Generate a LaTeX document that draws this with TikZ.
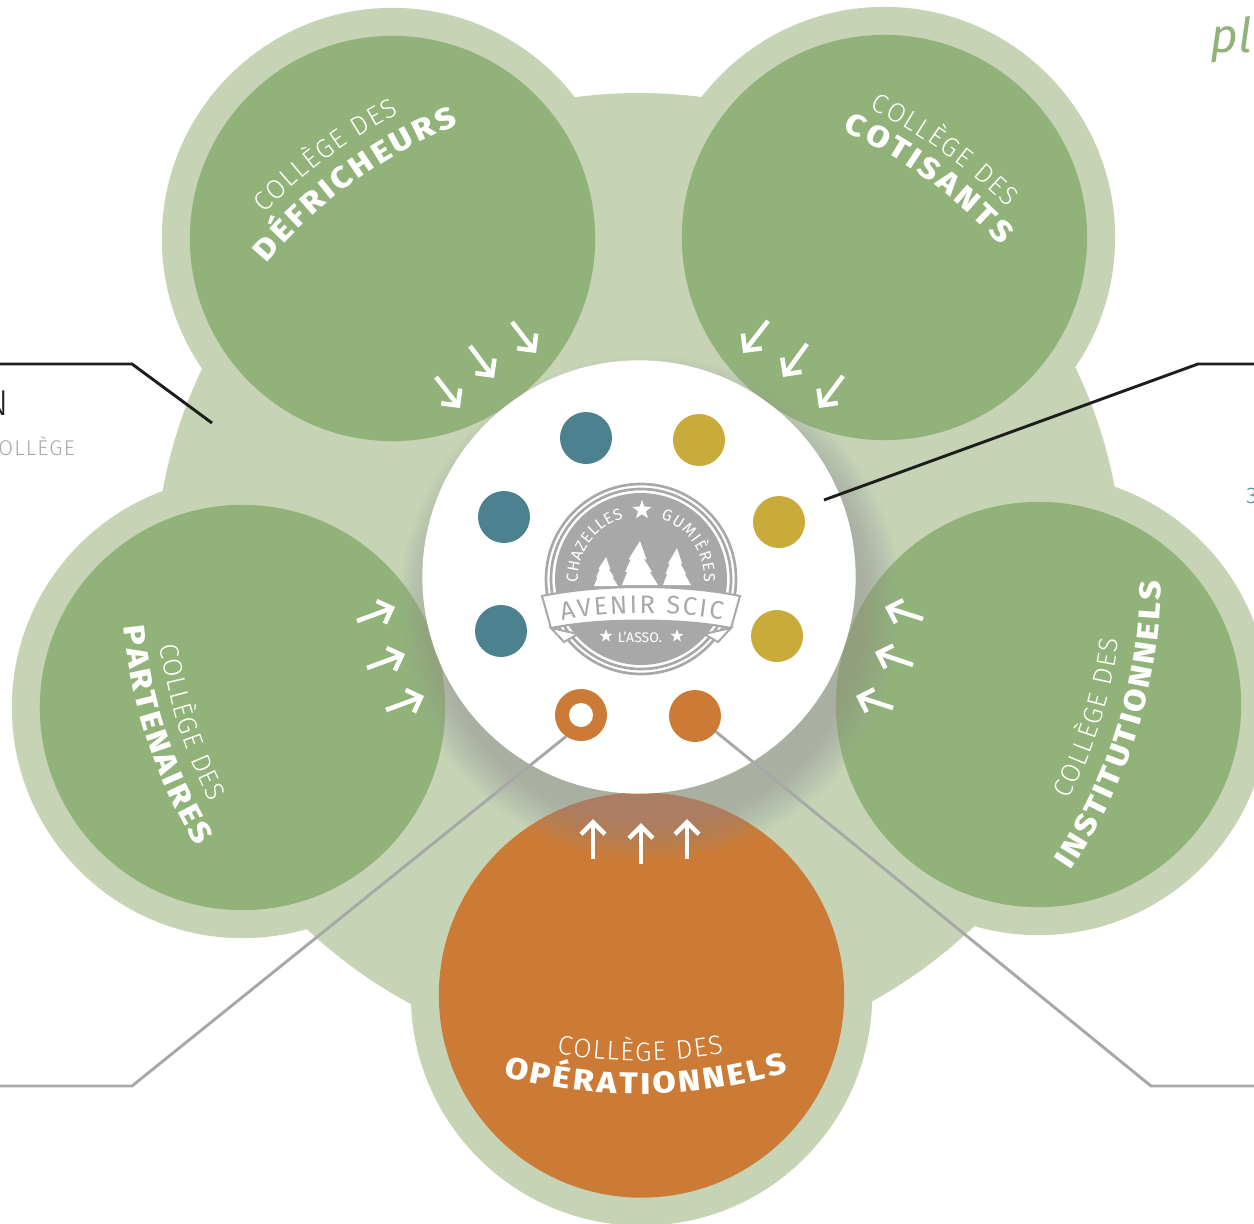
\documentclass[tikz,border=0pt]{standalone}
\usepackage{fontspec}
\setmainfont{Fira Sans}
\newfontfamily\lightface{Fira Sans Light}
\newfontfamily\heavyface[FakeStretch=1.12]{Fira Sans ExtraBold}
\usetikzlibrary{shapes.geometric,arrows.meta,decorations.text,calc}

\definecolor{palegreen}{HTML}{C6D4B5}
\definecolor{petalgreen}{HTML}{91B37A}
\definecolor{opsorange}{HTML}{CB7B36}
\definecolor{dotteal}{HTML}{4C8290}
\definecolor{dotgold}{HTML}{C9AB3B}
\definecolor{logogray}{HTML}{A9A8A9}
\definecolor{inkblack}{HTML}{1D1D1B}
\definecolor{scriptgreen}{HTML}{8FB378}

\tikzset{
    paleround/.style={circle, inner sep=0, fill=palegreen, minimum size=346pt},
    petal/.style={circle, inner sep=0, fill=petalgreen, minimum size=304pt},
    dot/.style={circle, inner sep=0, minimum size=39pt},
    guide/.style={line width=2.2pt, logogray},
    blackguide/.style={line width=2.2pt, inkblack},
    inarrow/.style={white, line width=3.4pt, -{Straight Barb[length=9pt,width=18pt,line width=3.4pt]}},
    logostar/.style={star, star points=5, star point ratio=2.4, fill=white, inner sep=0}
}

% titles run on arcs round the hub: radius, start, end, text
\newcommand{\lighttitle}[4]{
    \path[decorate, decoration={text along path, text align=fit to path,
        text={|\fontsize{20}{20}\lightface\color{white}|#4}}]
        ($(hub)+(#2:#1)$) arc[start angle=#2, end angle=#3, radius=#1];
}
\newcommand{\boldtitle}[4]{
    \path[decorate, decoration={text along path, text align=fit to path,
        text={|\fontsize{22.5}{22.5}\heavyface\color{white}|#4}}]
        ($(hub)+(#2:#1)$) arc[start angle=#2, end angle=#3, radius=#1];
}
% fir: x, base y, half width, height
\newcommand{\firtree}[4]{
    \fill[white] (#1-#3,-#2)
        -- ++(.30*#3,.30*#4) -- ++(-.12*#3,0) -- ++(.30*#3,.28*#4) -- ++(-.12*#3,0) -- (#1,-#2+#4)
        -- (#1+.36*#3,-#2+.58*#4) -- ++(-.12*#3,0) -- ++(.42*#3,-.28*#4) -- ++(-.12*#3,0) -- (#1+#3,-#2) -- cycle;
}

\begin{document}
\begin{tikzpicture}[x=0.75pt, y=0.75pt]

\useasboundingbox (0,0) rectangle (1254,-1224);
\clip (0,0) rectangle (1254,-1224);

% flower
\node[paleround, minimum size=726pt] (hubpale) at (639,-577) {};
\node[paleround] (paledefrich) at (392.5,-238.5) {};
\node[paleround] (palecotis) at (884.5,-237.5) {};
\node[paleround] (palepartn) at (242.5,-707.5) {};
\node[paleround] (paleinstit) at (1038.5,-704.5) {};
\node[paleround] (paleops) at (641.5,-995) {};

\node[petal] (defrich) at (paledefrich) {};
\node[petal] (cotis) at (palecotis) {};
\node[petal] (partn) at (palepartn) {};
\node[petal] (instit) at (paleinstit) {};
\node[petal, fill=opsorange] (ops) at (paleops) {};

% soft shadow under the hub
\foreach \r in {214,216,...,252}
    \fill[gray!80, fill opacity=0.035] (650,-608) circle (\r);

\node[circle, inner sep=0, fill=white, minimum size=325pt] (hub) at (639,-577) {};

% leader lines
\coordinate (blackleft) at (212,-423);
\coordinate (blackleftknee) at (132,-364);
\coordinate (blackleftend) at (0,-364);
\coordinate (blackright) at (824,-500);
\coordinate (blackrightknee) at (1198,-364);
\coordinate (blackrightend) at (1254,-364);
\draw[blackguide] (blackleft) -- (blackleftknee) -- (blackleftend);
\draw[blackguide] (blackright) -- (blackrightknee) -- (blackrightend);

% members
\node[dot, fill=dotteal] (tealone) at (586,-438) {};
\node[dot, fill=dotteal] (tealtwo) at (504,-517) {};
\node[dot, fill=dotteal] (tealthree) at (501,-631) {};
\node[dot, fill=dotgold] (goldone) at (699,-440) {};
\node[dot, fill=dotgold] (goldtwo) at (779,-522) {};
\node[dot, fill=dotgold] (goldthree) at (777,-636) {};
\node[dot, fill=opsorange] (ringdot) at (581,-715) {};
\node[circle, inner sep=0, fill=white, minimum size=18pt] (ringhole) at (ringdot) {};
\node[dot, fill=opsorange] (opsdot) at (695,-716) {};

\coordinate (grayleftknee) at (132,-1086);
\coordinate (grayleftend) at (0,-1086);
\coordinate (grayrightknee) at (1151,-1086);
\coordinate (grayrightend) at (1254,-1086);
\draw[guide] (ringdot.235) -- (grayleftknee) -- (grayleftend);
\draw[guide] (opsdot.-37) -- (grayrightknee) -- (grayrightend);

% arrows towards the hub
\foreach \xa/\ya/\xb/\yb in {
    512/322/536/353, 470/346/494/378, 436/377/460/408,
    768/321/743/353, 807/344/783/377, 843/376/819/408,
    923/619/885/607, 913/665/875/652, 893/708/856/696,
    357/621/395/607, 367/668/405/654, 386/710/424/696,
    593/859/593/819, 641/864/641/823, 687/859/687/819}
    \draw[inarrow] (\xa,-\ya) -- (\xb,-\yb);

% titles
\lighttitle{522}{135.9}{117.4}{COLLÈGE DES}
\boldtitle{487}{139.9}{111.8}{DÉFRICHEURS}
\lighttitle{522}{63.8}{45}{COLLÈGE DES}
\boldtitle{491}{65.5}{42.5}{COTISANTS}
\lighttitle{484}{188.1}{207.7}{COLLÈGE DES}
\boldtitle{518}{185.5}{211.3}{PARTENAIRES}
\lighttitle{484}{-27.4}{-7.4}{COLLÈGE DES}
\boldtitle{522}{-34.2}{-0.5}{INSTITUTIONNELS}
\lighttitle{484}{260.2}{280.1}{COLLÈGE DES}
\boldtitle{517}{254.8}{286.8}{OPÉRATIONNELS}

% logo
\coordinate (logo) at (641,-579);
\draw[logogray, line width=2pt] (logo) circle (95);
\draw[logogray, line width=2pt] (logo) circle (90);
\fill[logogray] (logo) circle (86);

\firtree{606}{586}{12}{29}
\firtree{640}{585}{18}{44}
\firtree{677}{585}{14}{37}

\path[decorate, decoration={text along path, text align=fit to path,
    text={|\fontsize{12}{12}\selectfont\color{white}|CHAZELLES}}]
    ($(logo)+(183:63)$) arc[start angle=183, end angle=106, radius=63];
\path[decorate, decoration={text along path, text align=fit to path,
    text={|\fontsize{12}{12}\selectfont\color{white}|GUMIÈRES}}]
    ($(logo)+(72:63)$) arc[start angle=72, end angle=-3, radius=63];

\node[logostar, minimum size=15pt] (logostartop) at (642,-510) {};

\draw[logogray, line width=1.5pt, fill=white] (551,-628) -- (564,-642) -- (578,-634) -- cycle;
\draw[logogray, line width=1.5pt, fill=white] (731,-628) -- (718,-642) -- (704,-634) -- cycle;
\draw[logogray, line width=1.5pt, fill=white] (542,-596) .. controls (600,-584) and (682,-584) .. (740,-596)
    -- (731,-628) .. controls (682,-618) and (600,-618) .. (551,-628) -- cycle;
\path[decorate, decoration={text along path, text align=fit to path,
    text={|\fontsize{19}{19}\selectfont\color{logogray}|AVENIR SCIC}}]
    (562,-621) .. controls (605,-611) and (680,-611) .. (722,-620);

\node[logostar, minimum size=10pt] (logostarleft) at (606,-636) {};
\node[logostar, minimum size=10pt] (logostarright) at (677,-636) {};
\node[inner sep=0, white, font=\fontsize{10.5}{10.5}\selectfont] (asso) at (640,-637) {L'ASSO.};

% text cut off by the page edge
\node[anchor=base east, inner sep=0, inkblack, font=\fontsize{27}{27}\selectfont\lightface] (capn) at (9,-415) {N};
\node[anchor=base east, inner sep=0, logogray, font=\fontsize{16}{16}\selectfont\lightface] (capcollege) at (75,-455) {\addfontfeature{LetterSpace=6}OLLÈGE};
\node[anchor=base west, inner sep=0, dotteal, font=\fontsize{17}{17}\selectfont\lightface] (capthree) at (1246,-503) {3};
\node[anchor=base west, inner sep=0, scriptgreen, font=\fontsize{36}{36}\selectfont\itshape] (capscript) at (1210,-52) {pl};

\end{tikzpicture}
\end{document}
